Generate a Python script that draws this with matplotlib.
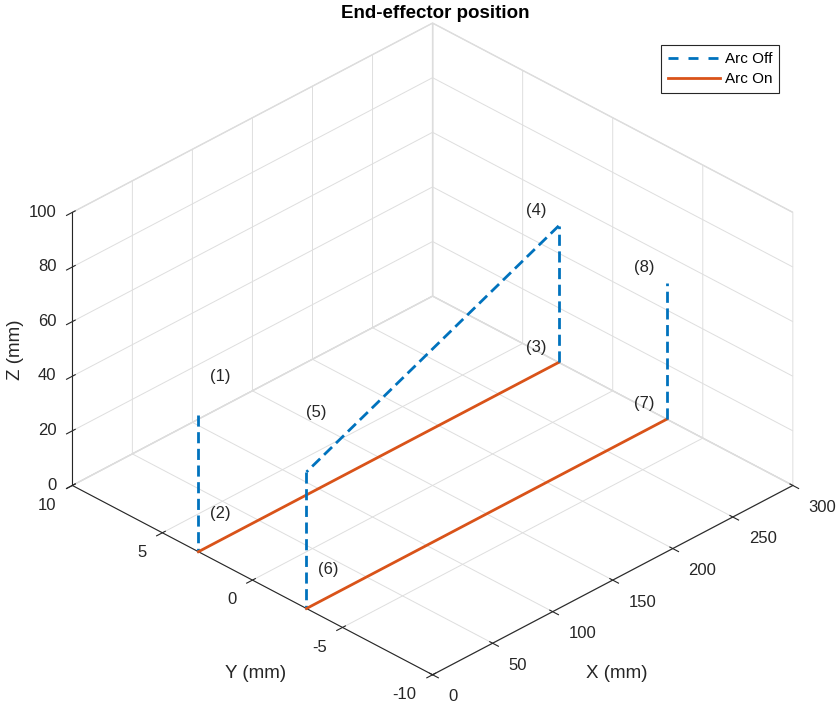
import matplotlib
matplotlib.use("Agg")
import matplotlib.pyplot as plt
from matplotlib.lines import Line2D
from matplotlib.ticker import NullFormatter
from mpl_toolkits.mplot3d import proj3d

plt.rcParams['font.family'] = ['Liberation Sans', 'DejaVu Sans']
plt.rcParams['axes.unicode_minus'] = False

# path points (1)..(8) in mm
px = [0, 0, 300, 300, 0, 0, 300, 300]
py = [3, 3, 3, 3, -3, -3, -3, -3]
pz = [50, 0, 0, 50, 50, 0, 0, 50]
point_names = ['(1)', '(2)', '(3)', '(4)', '(5)', '(6)', '(7)', '(8)']

# which consecutive segments are arc on
arc_on = [False, True, False, False, False, True, False]

x_ticks = [0, 50, 100, 150, 200, 250, 300]
y_ticks = [-10, -5, 0, 5, 10]
z_ticks = [0, 20, 40, 60, 80, 100]

blue = '#0072BD'
orange = '#D95319'
axcol = '#262626'
dash = (0, (4, 2))

fig = plt.figure(figsize=(8.4, 7.09), dpi=100)
ax = fig.add_axes([3 / 840, -4 / 709, 1.0, 1.0], projection='3d')
ax.set_proj_type('ortho')
ax.view_init(elev=31.7, azim=-135)
ax.set_box_aspect((1, 1, 0.63), zoom=1.08)

for i, on in enumerate(arc_on):
    xs, ys, zs = px[i:i + 2], py[i:i + 2], pz[i:i + 2]
    if on:
        ax.plot(xs, ys, zs, color=orange, lw=2, ls='-')
    else:
        ax.plot(xs, ys, zs, color=blue, lw=2, ls=dash)

ax.set_xlim(0, 300)
ax.set_ylim(-10, 10)
ax.set_zlim(0, 100)
ax.set_xticks(x_ticks)
ax.set_yticks(y_ticks)
ax.set_zticks(z_ticks)

for axis in (ax.xaxis, ax.yaxis, ax.zaxis):
    axis.set_pane_color((1, 1, 1, 1))
    axis.pane.set_edgecolor('#d9d9d9')
    axis.line.set_color(axcol)
    axis._axinfo['grid']['color'] = '#dedede'
    axis._axinfo['grid']['linewidth'] = 0.7
    axis._axinfo['tick']['color'] = axcol
    axis.set_major_formatter(NullFormatter())
    axis.set_tick_params(labelbottom=False)
ax.tick_params(colors=axcol)

# draw once so the projection is settled, then put texts at projected spots
fig.canvas.draw()
M = ax.get_proj()


def label3d(x, y, z, s, **kw):
    x2, y2, _ = proj3d.proj_transform(x, y, z, M)
    ax.text2D(x2, y2, s, transform=ax.transData, color=axcol, **kw)


# point labels
for i, name in enumerate(point_names):
    if px[i] == 0:
        dx, dz = 18, 10
        if i == 4:
            dx, dz = 8, 20
    else:
        dx, dz = -19, 10
    label3d(px[i] + dx, py[i], pz[i] + dz, name, fontsize=12,
            ha='center', va='center')

# tick labels laid out like MATLAB does it
for v in x_ticks:
    label3d(v, -10.88, -5.0, str(v), fontsize=12, ha='left', va='center')
for v in y_ticks:
    label3d(-13.3, v, -4.2, str(v), fontsize=12, ha='right', va='center')
for v in z_ticks:
    label3d(-4.25, 10.6, v - 1, str(v), fontsize=12, ha='right', va='center')

# axis labels placed like the MATLAB figure
fig.text(617 / 840, 1 - 674 / 709, 'X (mm)', fontsize=13.5, color=axcol,
         ha='center', va='center')
fig.text(256 / 840, 1 - 674 / 709, 'Y (mm)', fontsize=13.5, color=axcol,
         ha='center', va='center')
fig.text(15 / 840, 1 - 350 / 709, 'Z (mm)', fontsize=13.5, color=axcol,
         ha='center', va='center', rotation=90)

fig.text(435 / 840, 1 - 14 / 709, 'End-effector position',
         ha='center', va='center', fontsize=13.5, fontweight='bold')

handles = [Line2D([], [], color=blue, lw=2, ls=(0, (3.6, 3.6))),
           Line2D([], [], color=orange, lw=2)]
leg = ax.legend(handles, ['Arc Off', 'Arc On'], loc='upper right',
                bbox_to_anchor=(779 / 840, 1 - 45 / 709),
                bbox_transform=fig.transFigure, fontsize=11,
                fancybox=False, edgecolor=axcol, framealpha=1,
                handlelength=3.4, borderpad=0.45, labelspacing=0.4,
                handletextpad=0.3, borderaxespad=0)
leg.get_frame().set_linewidth(0.8)

fig.savefig('out.png', dpi=100)
